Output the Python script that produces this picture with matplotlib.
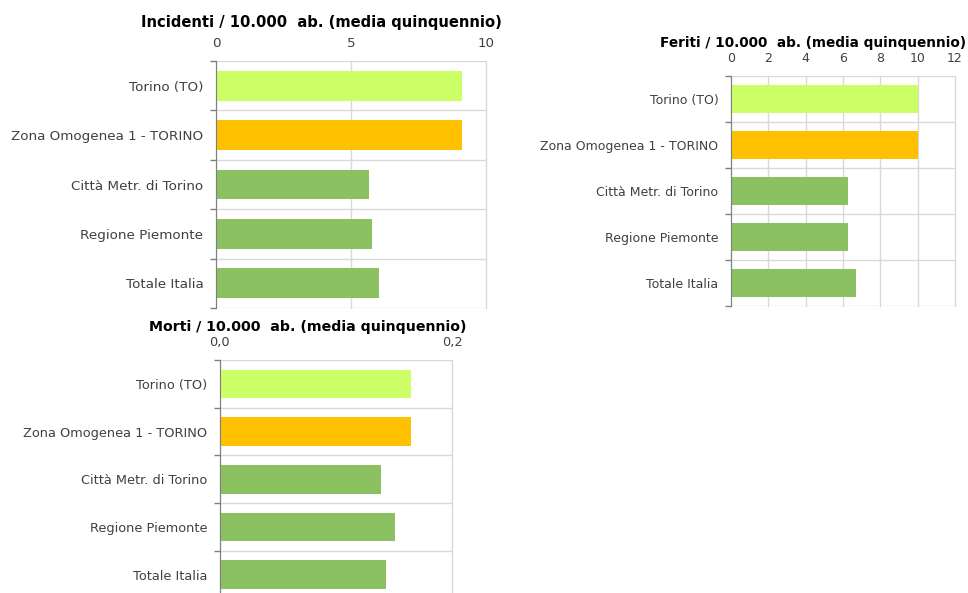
import matplotlib
matplotlib.use("Agg")
import matplotlib.pyplot as plt
from matplotlib.ticker import FixedLocator, FuncFormatter

plt.rcParams['font.family'] = ['DejaVu Sans']

categories = ["Torino (TO)", "Zona Omogenea 1 - TORINO", "Città Metr. di Torino",
              "Regione Piemonte", "Totale Italia"]
incidenti = [9.11, 9.11, 5.67, 5.78, 6.05]
feriti = [10.0, 10.0, 6.25, 6.25, 6.7]
morti = [0.1645, 0.1645, 0.139, 0.151, 0.143]
bar_colors = ["#CCFF66", "#FFC000", "#8BC160", "#8BC160", "#8BC160"]

W, H = 968, 593


def px_axes(fig, left, right, top, bottom):
    return fig.add_axes([left / W, 1 - bottom / H, (right - left) / W, (bottom - top) / H])


def draw(ax, values, xmax, xticks, fmt, label_size):
    n = len(values)
    ax.barh(range(n), values, height=0.6, color=bar_colors, zorder=3)
    ax.set_ylim(n - 0.5, -0.5)
    ax.set_xlim(0, xmax)
    ax.xaxis.tick_top()
    ax.xaxis.set_major_locator(FixedLocator(xticks))
    ax.xaxis.set_major_formatter(FuncFormatter(fmt))
    ax.tick_params(axis="x", length=0, pad=8, labelsize=label_size, labelcolor="#404040")
    ax.set_yticks(range(n))
    ax.set_yticklabels(categories)
    ax.tick_params(axis="y", which="major", length=0, pad=9, labelsize=label_size,
                   labelcolor="#404040")
    ax.yaxis.set_minor_locator(FixedLocator([i - 0.5 for i in range(n + 1)]))
    ax.tick_params(axis="y", which="minor", length=4, color="#7F7F7F", width=1)
    ax.grid(axis="x", which="major", color="#D9D9D9", lw=1, zorder=0, clip_on=False)
    ax.grid(axis="y", which="minor", color="#D9D9D9", lw=1, zorder=0)
    for s in ("top", "right", "bottom"):
        ax.spines[s].set_visible(False)
    ax.spines["left"].set_color("#7F7F7F")
    ax.spines["left"].set_zorder(4)


fig = plt.figure(figsize=(W / 100, H / 100), dpi=100)

ax1 = px_axes(fig, 216, 486, 61, 308)
draw(ax1, incidenti, 10, [0, 5, 10], lambda v, p: f"{v:.0f}", 9.7)
fig.text(321 / W, 1 - 22 / H, "Incidenti / 10.000  ab. (media quinquennio)",
         ha="center", va="center", fontsize=10.6, fontweight="bold")

ax2 = px_axes(fig, 731, 955, 76, 306)
draw(ax2, feriti, 12, [0, 2, 4, 6, 8, 10, 12], lambda v, p: f"{v:.0f}", 9.0)
fig.text(813 / W, 1 - 43 / H, "Feriti / 10.000  ab. (media quinquennio)",
         ha="center", va="center", fontsize=9.8, fontweight="bold")

ax3 = px_axes(fig, 219.7, 452.3, 360, 598.5)
draw(ax3, morti, 0.2, [0.0, 0.2], lambda v, p: f"{v:.1f}".replace(".", ","), 9.3)
fig.text(308 / W, 1 - 327 / H, "Morti / 10.000  ab. (media quinquennio)",
         ha="center", va="center", fontsize=10.2, fontweight="bold")

fig.savefig("out.png", dpi=100)
